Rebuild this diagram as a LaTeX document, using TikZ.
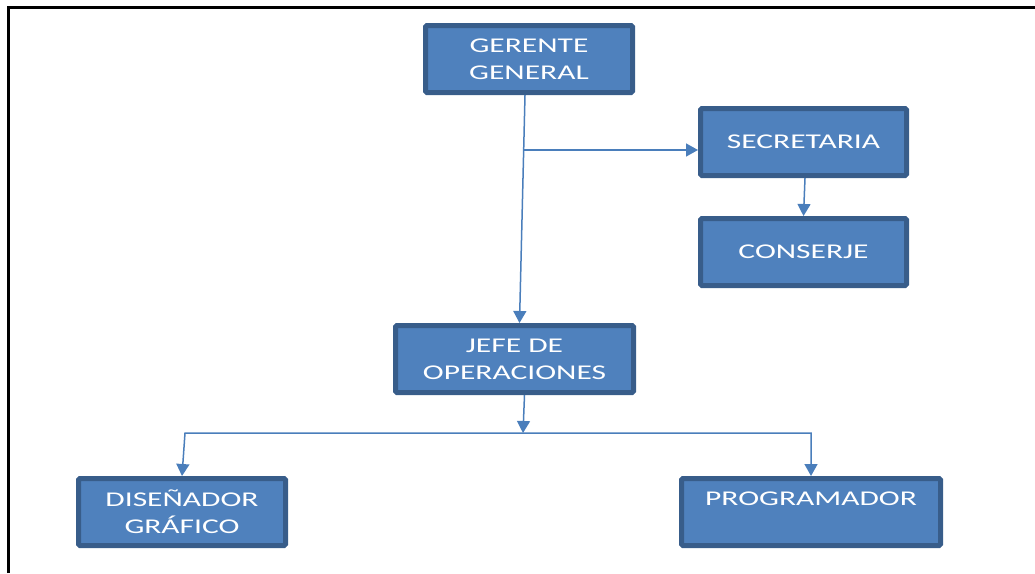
\documentclass[tikz,border=0pt]{standalone}
\usepackage{fontspec}
\newfontfamily\boxfont[FakeStretch=1.5]{Carlito}
\definecolor{cargofill}{RGB}{79,129,189}
\definecolor{cargoline}{RGB}{56,93,138}
\definecolor{linkblue}{RGB}{74,126,187}
\usetikzlibrary{calc}
\usetikzlibrary{positioning}
\usetikzlibrary{arrows.meta}
\tikzset{role/.style={ % Sets the properties for each box of the chart
           draw=cargoline, fill=cargofill,
           line width=5pt, rounded corners=1.5pt,
           inner sep=0pt, minimum height=67pt,
           align=center, text=white,
           font=\boxfont\fontsize{21}{27}\selectfont},
         link/.style={ % Sets the properties for each connector
           draw=linkblue, line width=1.5pt,
           -{Triangle[width=13pt,length=12pt]}}}

\begin{document}
\begin{tikzpicture}[x=1pt, y=1pt]
  \useasboundingbox (0,0) rectangle (1035,-573);

  % frame of the page
  \draw [line width=3pt] (8.5,-573) -- (8.5,-7.5) -- (1035,-7.5);

  \node [role, minimum width=207pt] (gg) at (529,-59) {GERENTE\\ GENERAL};
  \node [role, minimum width=206pt, below right=11pt and 63pt of gg] (sec) {SECRETARIA};
  \node [role, minimum width=206pt, below=38pt of sec] (con) {CONSERJE};
  \node [role, minimum width=238pt, below=228pt of gg, xshift=-14.5pt] (jefe) {JEFE DE\\ OPERACIONES};
  \node [role, minimum width=207pt, below left=81pt and 105pt of jefe] (dis) {DISEÑADOR\\ GRÁFICO};
  \node [role, minimum width=259pt, below right=81pt and 43pt of jefe] (prog) {PROGRAMADOR\\ ~};

  % top of the chart
  \coordinate (fork) at ($(gg.south)+(-5,-55)$);
  \draw [link] ([xshift=-4pt]gg.south) -- ([xshift=5pt]jefe.north);
  \draw [link] (fork) -- (fork -| sec.west);
  \draw [link] ([xshift=1.5pt]sec.south) -- (con.north);

  % operations branch
  \coordinate (bus) at ($(jefe.south)+(8.5,-38)$);
  \draw [link] ([xshift=10pt]jefe.south) -- (bus);
  \draw [link, {Triangle[width=13pt,length=12pt]}-{Triangle[width=13pt,length=12pt]}]
    (dis.north) -- ([xshift=3pt]dis.north |- bus) -- (prog.north |- bus) -- (prog.north);
\end{tikzpicture}
\end{document}
